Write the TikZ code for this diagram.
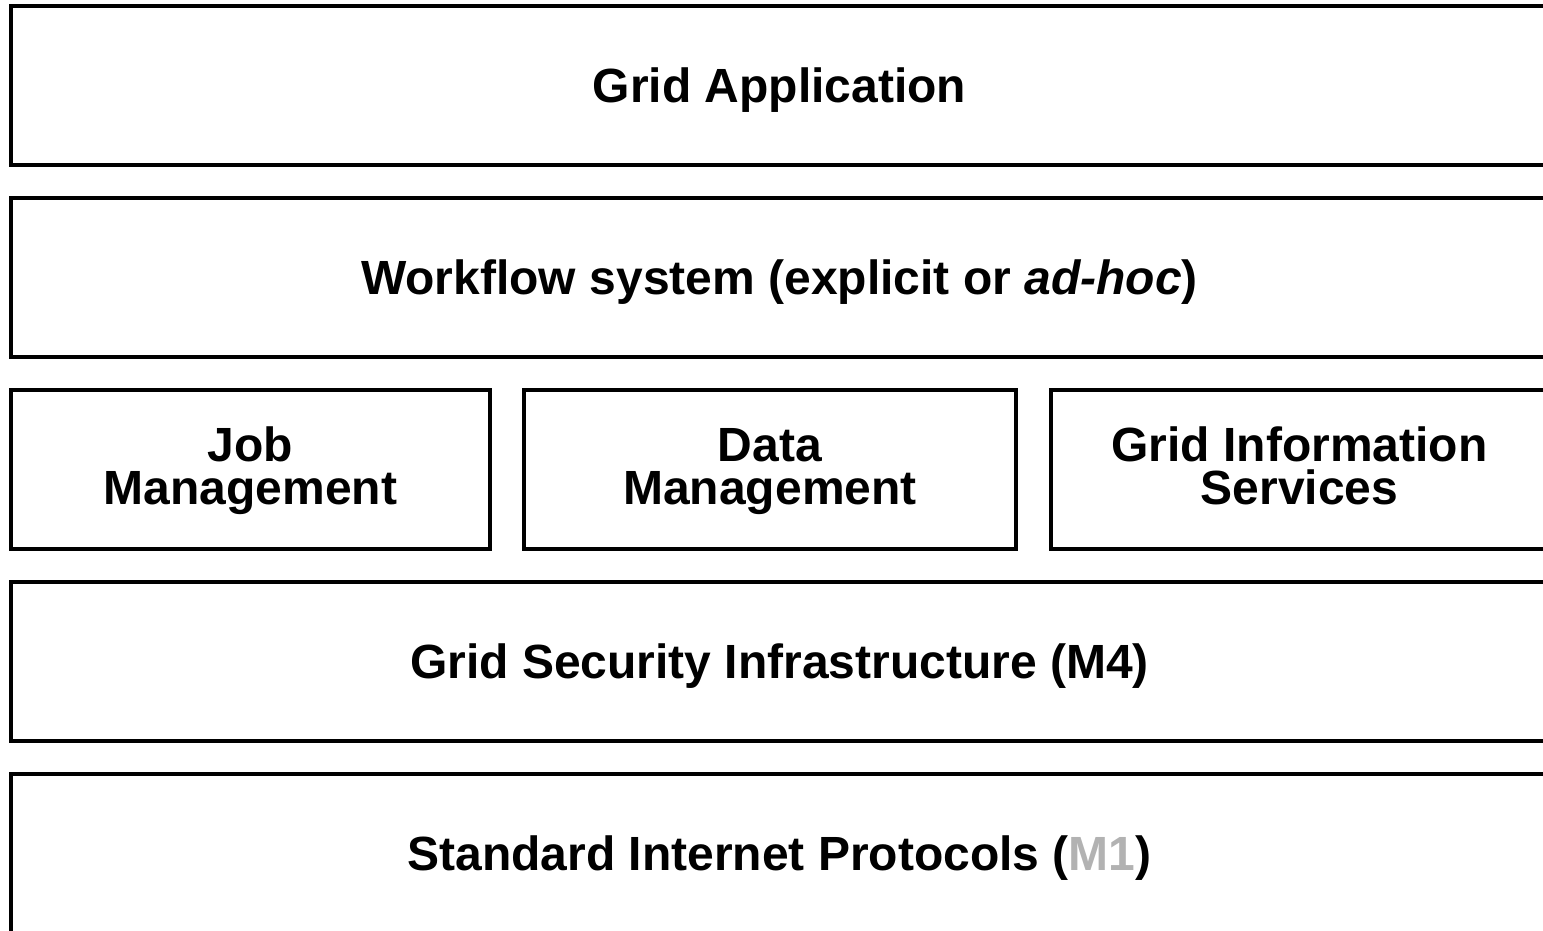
\documentclass[tikz,border=0pt]{standalone}
\usepackage{fontspec}
\setmainfont{Liberation Sans}
\begin{document}
\begin{tikzpicture}[x=1pt,y=-1pt,
  layer/.style={draw=black, line width=4pt, inner sep=0pt, fill=white,
    minimum height=159pt, font=\fontsize{48pt}{43pt}\selectfont\bfseries},
  wide/.style={layer, minimum width=1537pt, text depth=0pt},
  part/.style={layer, align=center, text height=77pt, text depth=8pt}]
  % page frame: the layers run on past its right and bottom edges
  \clip (0,0) rectangle (1543,931);
  \fill[white] (0,0) rectangle (1543,931);

  % stack of layers, top to bottom
  \node[wide] (app) at (779.5,85.5) {Grid Application};
  \node[wide] (wf)  at (779.5,277.5) {Workflow system (explicit or \textit{ad-hoc})};

  \node[part, minimum width=479pt] (job)  at (250.5,469.5) {Job\\Management};
  \node[part, minimum width=492pt] (data) at (770,469.5) {Data\\Management};
  \node[part, minimum width=497pt] (gis)  at (1299.5,469.5) {Grid Information\\Services};

  \node[wide] (gsi) at (779.5,661.5) {Grid Security Infrastructure (M4)};
  \node[wide] (sip) at (779.5,853.5) {Standard Internet Protocols (\textcolor{black!30}{M1})};
\end{tikzpicture}
\end{document}
